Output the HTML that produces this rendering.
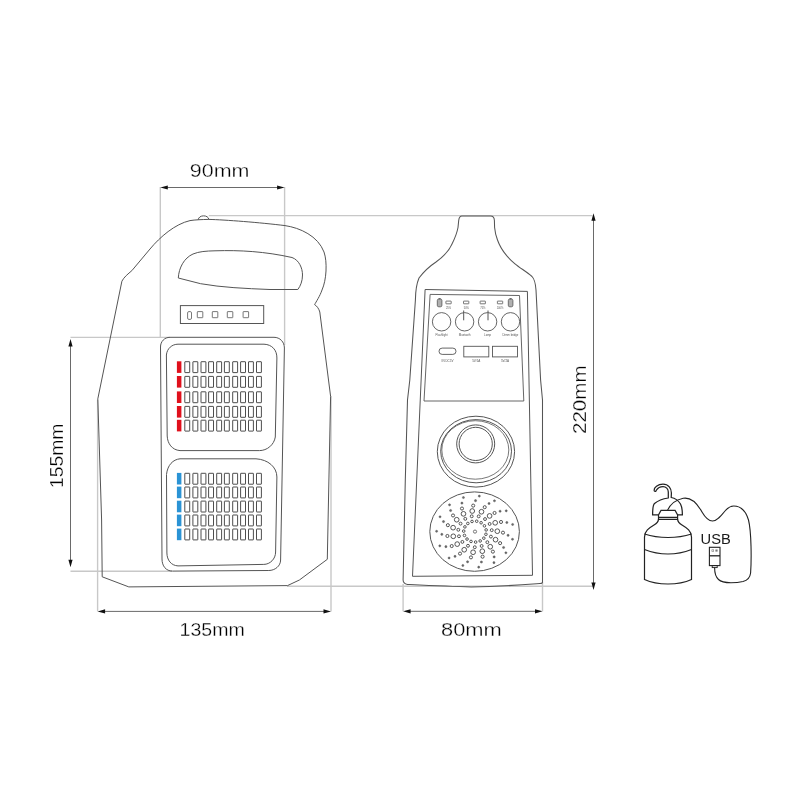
<!DOCTYPE html>
<html><head><meta charset="utf-8"><style>
html,body{margin:0;padding:0;background:#fff;}
svg{display:block;font-family:"Liberation Sans",sans-serif;will-change:transform;}
</style></head><body>
<svg width="800" height="800" viewBox="0 0 800 800">
<rect width="800" height="800" fill="#fff"/>
<line x1="160.3" y1="187" x2="160.3" y2="337.5" stroke="#c8c8c8" stroke-width="1.4"/>
<line x1="284.6" y1="187" x2="284.6" y2="345" stroke="#c8c8c8" stroke-width="1.4"/>
<line x1="208.8" y1="215.6" x2="592.5" y2="215.6" stroke="#c8c8c8" stroke-width="1.4"/>
<line x1="70.5" y1="337.4" x2="170" y2="337.4" stroke="#c8c8c8" stroke-width="1.4"/>
<line x1="70.5" y1="571.2" x2="172" y2="571.2" stroke="#c8c8c8" stroke-width="1.4"/>
<line x1="97.6" y1="400" x2="97.6" y2="611.4" stroke="#c8c8c8" stroke-width="1.4"/>
<line x1="331" y1="396" x2="331" y2="611.4" stroke="#c8c8c8" stroke-width="1.4"/>
<line x1="287" y1="586.3" x2="593.5" y2="586.3" stroke="#c8c8c8" stroke-width="1.4"/>
<line x1="403.1" y1="584" x2="403.1" y2="611.3" stroke="#c8c8c8" stroke-width="1.4"/>
<line x1="542.5" y1="582" x2="542.5" y2="611.3" stroke="#c8c8c8" stroke-width="1.4"/>
<line x1="166.3" y1="187.5" x2="278.6" y2="187.5" stroke="#6a6a6a" stroke-width="1.0"/>
<path d="M160.3,187.5 L167.8,185.4 L167.8,189.6Z M284.6,187.5 L277.1,185.4 L277.1,189.6Z" fill="#111"/>
<line x1="103.6" y1="611.4" x2="325" y2="611.4" stroke="#6a6a6a" stroke-width="1.0"/>
<path d="M97.6,611.4 L105.1,609.3 L105.1,613.5Z M331,611.4 L323.5,609.3 L323.5,613.5Z" fill="#111"/>
<line x1="409.1" y1="611.3" x2="536.5" y2="611.3" stroke="#6a6a6a" stroke-width="1.0"/>
<path d="M403.1,611.3 L410.6,609.1999999999999 L410.6,613.4Z M542.5,611.3 L535.0,609.1999999999999 L535.0,613.4Z" fill="#111"/>
<line x1="70.5" y1="345" x2="70.5" y2="561.2" stroke="#6a6a6a" stroke-width="1.0"/>
<path d="M70.5,339 L68.4,346.5 L72.6,346.5Z M70.5,567.2 L68.4,559.7 L72.6,559.7Z" fill="#111"/>
<line x1="593.5" y1="219.2" x2="593.5" y2="584" stroke="#6a6a6a" stroke-width="1.0"/>
<path d="M593.5,213.2 L591.4,220.7 L595.6,220.7Z M593.5,590 L591.4,582.5 L595.6,582.5Z" fill="#111"/>
<text x="189.8" y="176.8" font-size="18.0" textLength="59.6" lengthAdjust="spacingAndGlyphs" fill="#000" stroke="#fff" stroke-width="0.3">90mm</text>
<text x="179.6" y="636.4" font-size="18.4" textLength="65.2" lengthAdjust="spacingAndGlyphs" fill="#000" stroke="#fff" stroke-width="0.3">135mm</text>
<text x="441.0" y="636.1" font-size="18.6" textLength="60.8" lengthAdjust="spacingAndGlyphs" fill="#000" stroke="#fff" stroke-width="0.3">80mm</text>
<text x="62.8" y="488.0" font-size="18.8" textLength="64.4" lengthAdjust="spacingAndGlyphs" fill="#000" stroke="#fff" stroke-width="0.3" transform="rotate(-90 62.8 488.0)">155mm</text>
<text x="586.2" y="434.0" font-size="19.2" textLength="68.6" lengthAdjust="spacingAndGlyphs" fill="#000" stroke="#fff" stroke-width="0.3" transform="rotate(-90 586.2 434.0)">220mm</text>
<path d="M208.8,219.4 C225,219.8 260,222.5 285,225.6 C300,227.8 318,236 324,252 C327.5,262 326.5,280 322,290 C320,296 316,302 314.6,304.6 C317,306 319,309 319.8,312 L330.6,396.3 L327.3,559.3 L299.4,580 L287.5,585.6 L128.8,586.9 L102.2,576.8 L101.6,520 L97.8,398.9 L121.9,281.2 C124,277 128,274 131.9,270.6 L150,249 C160,237 175,224 190,220.6 C195,219.8 202,219.5 208.8,219.4 Z" fill="none" stroke="#555" stroke-width="1.0"/>
<path d="M198.2,219.8 C198.6,214.6 208.4,214.6 208.8,219.4" fill="none" stroke="#555" stroke-width="1.0"/>
<path d="M178.3,278 C178.8,268 184,258 193,254 C199,251.5 206,251 215,250.8 C240,250 265,251.5 292,257.5 C299,260 302.5,268 302.5,275 C302.5,281 300.5,286 297.8,289.5 L270,289.5 C245,288.5 222,287.5 200.6,283.7 Z" fill="none" stroke="#555" stroke-width="1.0"/>
<rect x="180.4" y="305.6" width="83.3" height="17.9" fill="none" stroke="#555" stroke-width="1.0"/>
<rect x="187.6" y="311.6" width="3.9" height="7.8" rx="1.3" fill="none" stroke="#555" stroke-width="0.8"/>
<rect x="197.3" y="311.6" width="5.5" height="6.1" rx="0.4" fill="none" stroke="#555" stroke-width="0.8"/>
<rect x="212.3" y="311.6" width="5.5" height="6.1" rx="0.4" fill="none" stroke="#555" stroke-width="0.8"/>
<rect x="227.3" y="311.6" width="5.5" height="6.1" rx="0.4" fill="none" stroke="#555" stroke-width="0.8"/>
<rect x="243.1" y="311.6" width="5.5" height="6.1" rx="0.4" fill="none" stroke="#555" stroke-width="0.8"/>
<path d="M170,337.3 L274,337.3 C280,337.3 284.4,342 284.4,348 L280.6,560 C280.6,566 275,570.5 268.8,570.5 L172.5,571.1 C166,571.1 162,566 162,559 L160.5,347 C160.5,341.5 164.5,337.3 170,337.3 Z" fill="none" stroke="#555" stroke-width="1.0"/>
<path d="M178,344.2 L264,344.2 C272,344.5 277,350 276.9,358 L275.3,437 C274,445 267,450.6 259.4,450.6 L180,450.6 C172,450 167.5,443.5 167.2,436 L166.4,355 C167,348.5 172,344.2 178,344.2 Z" fill="none" stroke="#555" stroke-width="1.0"/>
<path d="M180,458.8 L256,458.8 C268,459.5 276.9,467 276.9,477 L275.6,552 C275.6,559 270,564.4 263.8,564.4 L178,565.9 C171,565.5 167,560 166.9,553 L166.5,474.5 C167.5,465 173,459.5 180,458.8 Z" fill="none" stroke="#555" stroke-width="1.0"/>
<rect x="176.9" y="361.3" width="4.5" height="11.6" fill="#e0101c"/>
<rect x="184.8" y="361.7" width="4.9" height="10.9" rx="0.3" fill="none" stroke="#3a3a3a" stroke-width="0.9"/>
<rect x="192.9" y="361.7" width="4.9" height="10.9" rx="0.3" fill="none" stroke="#3a3a3a" stroke-width="0.9"/>
<rect x="201.0" y="361.7" width="4.9" height="10.9" rx="0.3" fill="none" stroke="#3a3a3a" stroke-width="0.9"/>
<rect x="208.6" y="361.7" width="4.9" height="10.9" rx="0.3" fill="none" stroke="#3a3a3a" stroke-width="0.9"/>
<rect x="216.70000000000002" y="361.7" width="4.9" height="10.9" rx="0.3" fill="none" stroke="#3a3a3a" stroke-width="0.9"/>
<rect x="224.4" y="361.7" width="4.9" height="10.9" rx="0.3" fill="none" stroke="#3a3a3a" stroke-width="0.9"/>
<rect x="232.70000000000002" y="361.7" width="4.9" height="10.9" rx="0.3" fill="none" stroke="#3a3a3a" stroke-width="0.9"/>
<rect x="240.6" y="361.7" width="4.9" height="10.9" rx="0.3" fill="none" stroke="#3a3a3a" stroke-width="0.9"/>
<rect x="248.5" y="361.7" width="4.9" height="10.9" rx="0.3" fill="none" stroke="#3a3a3a" stroke-width="0.9"/>
<rect x="256.5" y="361.7" width="4.9" height="10.9" rx="0.3" fill="none" stroke="#3a3a3a" stroke-width="0.9"/>
<rect x="176.9" y="376.0" width="4.5" height="11.6" fill="#e0101c"/>
<rect x="184.8" y="376.4" width="4.9" height="10.9" rx="0.3" fill="none" stroke="#3a3a3a" stroke-width="0.9"/>
<rect x="192.9" y="376.4" width="4.9" height="10.9" rx="0.3" fill="none" stroke="#3a3a3a" stroke-width="0.9"/>
<rect x="201.0" y="376.4" width="4.9" height="10.9" rx="0.3" fill="none" stroke="#3a3a3a" stroke-width="0.9"/>
<rect x="208.6" y="376.4" width="4.9" height="10.9" rx="0.3" fill="none" stroke="#3a3a3a" stroke-width="0.9"/>
<rect x="216.70000000000002" y="376.4" width="4.9" height="10.9" rx="0.3" fill="none" stroke="#3a3a3a" stroke-width="0.9"/>
<rect x="224.4" y="376.4" width="4.9" height="10.9" rx="0.3" fill="none" stroke="#3a3a3a" stroke-width="0.9"/>
<rect x="232.70000000000002" y="376.4" width="4.9" height="10.9" rx="0.3" fill="none" stroke="#3a3a3a" stroke-width="0.9"/>
<rect x="240.6" y="376.4" width="4.9" height="10.9" rx="0.3" fill="none" stroke="#3a3a3a" stroke-width="0.9"/>
<rect x="248.5" y="376.4" width="4.9" height="10.9" rx="0.3" fill="none" stroke="#3a3a3a" stroke-width="0.9"/>
<rect x="256.5" y="376.4" width="4.9" height="10.9" rx="0.3" fill="none" stroke="#3a3a3a" stroke-width="0.9"/>
<rect x="176.9" y="391.4" width="4.5" height="11.6" fill="#e0101c"/>
<rect x="184.8" y="391.79999999999995" width="4.9" height="10.9" rx="0.3" fill="none" stroke="#3a3a3a" stroke-width="0.9"/>
<rect x="192.9" y="391.79999999999995" width="4.9" height="10.9" rx="0.3" fill="none" stroke="#3a3a3a" stroke-width="0.9"/>
<rect x="201.0" y="391.79999999999995" width="4.9" height="10.9" rx="0.3" fill="none" stroke="#3a3a3a" stroke-width="0.9"/>
<rect x="208.6" y="391.79999999999995" width="4.9" height="10.9" rx="0.3" fill="none" stroke="#3a3a3a" stroke-width="0.9"/>
<rect x="216.70000000000002" y="391.79999999999995" width="4.9" height="10.9" rx="0.3" fill="none" stroke="#3a3a3a" stroke-width="0.9"/>
<rect x="224.4" y="391.79999999999995" width="4.9" height="10.9" rx="0.3" fill="none" stroke="#3a3a3a" stroke-width="0.9"/>
<rect x="232.70000000000002" y="391.79999999999995" width="4.9" height="10.9" rx="0.3" fill="none" stroke="#3a3a3a" stroke-width="0.9"/>
<rect x="240.6" y="391.79999999999995" width="4.9" height="10.9" rx="0.3" fill="none" stroke="#3a3a3a" stroke-width="0.9"/>
<rect x="248.5" y="391.79999999999995" width="4.9" height="10.9" rx="0.3" fill="none" stroke="#3a3a3a" stroke-width="0.9"/>
<rect x="256.5" y="391.79999999999995" width="4.9" height="10.9" rx="0.3" fill="none" stroke="#3a3a3a" stroke-width="0.9"/>
<rect x="176.9" y="406.0" width="4.5" height="11.6" fill="#e0101c"/>
<rect x="184.8" y="406.4" width="4.9" height="10.9" rx="0.3" fill="none" stroke="#3a3a3a" stroke-width="0.9"/>
<rect x="192.9" y="406.4" width="4.9" height="10.9" rx="0.3" fill="none" stroke="#3a3a3a" stroke-width="0.9"/>
<rect x="201.0" y="406.4" width="4.9" height="10.9" rx="0.3" fill="none" stroke="#3a3a3a" stroke-width="0.9"/>
<rect x="208.6" y="406.4" width="4.9" height="10.9" rx="0.3" fill="none" stroke="#3a3a3a" stroke-width="0.9"/>
<rect x="216.70000000000002" y="406.4" width="4.9" height="10.9" rx="0.3" fill="none" stroke="#3a3a3a" stroke-width="0.9"/>
<rect x="224.4" y="406.4" width="4.9" height="10.9" rx="0.3" fill="none" stroke="#3a3a3a" stroke-width="0.9"/>
<rect x="232.70000000000002" y="406.4" width="4.9" height="10.9" rx="0.3" fill="none" stroke="#3a3a3a" stroke-width="0.9"/>
<rect x="240.6" y="406.4" width="4.9" height="10.9" rx="0.3" fill="none" stroke="#3a3a3a" stroke-width="0.9"/>
<rect x="248.5" y="406.4" width="4.9" height="10.9" rx="0.3" fill="none" stroke="#3a3a3a" stroke-width="0.9"/>
<rect x="256.5" y="406.4" width="4.9" height="10.9" rx="0.3" fill="none" stroke="#3a3a3a" stroke-width="0.9"/>
<rect x="176.9" y="419.8" width="4.5" height="11.6" fill="#e0101c"/>
<rect x="184.8" y="420.2" width="4.9" height="10.9" rx="0.3" fill="none" stroke="#3a3a3a" stroke-width="0.9"/>
<rect x="192.9" y="420.2" width="4.9" height="10.9" rx="0.3" fill="none" stroke="#3a3a3a" stroke-width="0.9"/>
<rect x="201.0" y="420.2" width="4.9" height="10.9" rx="0.3" fill="none" stroke="#3a3a3a" stroke-width="0.9"/>
<rect x="208.6" y="420.2" width="4.9" height="10.9" rx="0.3" fill="none" stroke="#3a3a3a" stroke-width="0.9"/>
<rect x="216.70000000000002" y="420.2" width="4.9" height="10.9" rx="0.3" fill="none" stroke="#3a3a3a" stroke-width="0.9"/>
<rect x="224.4" y="420.2" width="4.9" height="10.9" rx="0.3" fill="none" stroke="#3a3a3a" stroke-width="0.9"/>
<rect x="232.70000000000002" y="420.2" width="4.9" height="10.9" rx="0.3" fill="none" stroke="#3a3a3a" stroke-width="0.9"/>
<rect x="240.6" y="420.2" width="4.9" height="10.9" rx="0.3" fill="none" stroke="#3a3a3a" stroke-width="0.9"/>
<rect x="248.5" y="420.2" width="4.9" height="10.9" rx="0.3" fill="none" stroke="#3a3a3a" stroke-width="0.9"/>
<rect x="256.5" y="420.2" width="4.9" height="10.9" rx="0.3" fill="none" stroke="#3a3a3a" stroke-width="0.9"/>
<rect x="176.9" y="472.9" width="4.5" height="11.6" fill="#2a93d5"/>
<rect x="184.8" y="473.29999999999995" width="4.9" height="10.9" rx="0.3" fill="none" stroke="#3a3a3a" stroke-width="0.9"/>
<rect x="192.9" y="473.29999999999995" width="4.9" height="10.9" rx="0.3" fill="none" stroke="#3a3a3a" stroke-width="0.9"/>
<rect x="201.0" y="473.29999999999995" width="4.9" height="10.9" rx="0.3" fill="none" stroke="#3a3a3a" stroke-width="0.9"/>
<rect x="208.6" y="473.29999999999995" width="4.9" height="10.9" rx="0.3" fill="none" stroke="#3a3a3a" stroke-width="0.9"/>
<rect x="216.70000000000002" y="473.29999999999995" width="4.9" height="10.9" rx="0.3" fill="none" stroke="#3a3a3a" stroke-width="0.9"/>
<rect x="224.4" y="473.29999999999995" width="4.9" height="10.9" rx="0.3" fill="none" stroke="#3a3a3a" stroke-width="0.9"/>
<rect x="232.70000000000002" y="473.29999999999995" width="4.9" height="10.9" rx="0.3" fill="none" stroke="#3a3a3a" stroke-width="0.9"/>
<rect x="240.6" y="473.29999999999995" width="4.9" height="10.9" rx="0.3" fill="none" stroke="#3a3a3a" stroke-width="0.9"/>
<rect x="248.5" y="473.29999999999995" width="4.9" height="10.9" rx="0.3" fill="none" stroke="#3a3a3a" stroke-width="0.9"/>
<rect x="256.5" y="473.29999999999995" width="4.9" height="10.9" rx="0.3" fill="none" stroke="#3a3a3a" stroke-width="0.9"/>
<rect x="176.9" y="486.6" width="4.5" height="11.6" fill="#2a93d5"/>
<rect x="184.8" y="487.0" width="4.9" height="10.9" rx="0.3" fill="none" stroke="#3a3a3a" stroke-width="0.9"/>
<rect x="192.9" y="487.0" width="4.9" height="10.9" rx="0.3" fill="none" stroke="#3a3a3a" stroke-width="0.9"/>
<rect x="201.0" y="487.0" width="4.9" height="10.9" rx="0.3" fill="none" stroke="#3a3a3a" stroke-width="0.9"/>
<rect x="208.6" y="487.0" width="4.9" height="10.9" rx="0.3" fill="none" stroke="#3a3a3a" stroke-width="0.9"/>
<rect x="216.70000000000002" y="487.0" width="4.9" height="10.9" rx="0.3" fill="none" stroke="#3a3a3a" stroke-width="0.9"/>
<rect x="224.4" y="487.0" width="4.9" height="10.9" rx="0.3" fill="none" stroke="#3a3a3a" stroke-width="0.9"/>
<rect x="232.70000000000002" y="487.0" width="4.9" height="10.9" rx="0.3" fill="none" stroke="#3a3a3a" stroke-width="0.9"/>
<rect x="240.6" y="487.0" width="4.9" height="10.9" rx="0.3" fill="none" stroke="#3a3a3a" stroke-width="0.9"/>
<rect x="248.5" y="487.0" width="4.9" height="10.9" rx="0.3" fill="none" stroke="#3a3a3a" stroke-width="0.9"/>
<rect x="256.5" y="487.0" width="4.9" height="10.9" rx="0.3" fill="none" stroke="#3a3a3a" stroke-width="0.9"/>
<rect x="176.9" y="500.7" width="4.5" height="11.6" fill="#2a93d5"/>
<rect x="184.8" y="501.09999999999997" width="4.9" height="10.9" rx="0.3" fill="none" stroke="#3a3a3a" stroke-width="0.9"/>
<rect x="192.9" y="501.09999999999997" width="4.9" height="10.9" rx="0.3" fill="none" stroke="#3a3a3a" stroke-width="0.9"/>
<rect x="201.0" y="501.09999999999997" width="4.9" height="10.9" rx="0.3" fill="none" stroke="#3a3a3a" stroke-width="0.9"/>
<rect x="208.6" y="501.09999999999997" width="4.9" height="10.9" rx="0.3" fill="none" stroke="#3a3a3a" stroke-width="0.9"/>
<rect x="216.70000000000002" y="501.09999999999997" width="4.9" height="10.9" rx="0.3" fill="none" stroke="#3a3a3a" stroke-width="0.9"/>
<rect x="224.4" y="501.09999999999997" width="4.9" height="10.9" rx="0.3" fill="none" stroke="#3a3a3a" stroke-width="0.9"/>
<rect x="232.70000000000002" y="501.09999999999997" width="4.9" height="10.9" rx="0.3" fill="none" stroke="#3a3a3a" stroke-width="0.9"/>
<rect x="240.6" y="501.09999999999997" width="4.9" height="10.9" rx="0.3" fill="none" stroke="#3a3a3a" stroke-width="0.9"/>
<rect x="248.5" y="501.09999999999997" width="4.9" height="10.9" rx="0.3" fill="none" stroke="#3a3a3a" stroke-width="0.9"/>
<rect x="256.5" y="501.09999999999997" width="4.9" height="10.9" rx="0.3" fill="none" stroke="#3a3a3a" stroke-width="0.9"/>
<rect x="176.9" y="514.6" width="4.5" height="11.6" fill="#2a93d5"/>
<rect x="184.8" y="515.0" width="4.9" height="10.9" rx="0.3" fill="none" stroke="#3a3a3a" stroke-width="0.9"/>
<rect x="192.9" y="515.0" width="4.9" height="10.9" rx="0.3" fill="none" stroke="#3a3a3a" stroke-width="0.9"/>
<rect x="201.0" y="515.0" width="4.9" height="10.9" rx="0.3" fill="none" stroke="#3a3a3a" stroke-width="0.9"/>
<rect x="208.6" y="515.0" width="4.9" height="10.9" rx="0.3" fill="none" stroke="#3a3a3a" stroke-width="0.9"/>
<rect x="216.70000000000002" y="515.0" width="4.9" height="10.9" rx="0.3" fill="none" stroke="#3a3a3a" stroke-width="0.9"/>
<rect x="224.4" y="515.0" width="4.9" height="10.9" rx="0.3" fill="none" stroke="#3a3a3a" stroke-width="0.9"/>
<rect x="232.70000000000002" y="515.0" width="4.9" height="10.9" rx="0.3" fill="none" stroke="#3a3a3a" stroke-width="0.9"/>
<rect x="240.6" y="515.0" width="4.9" height="10.9" rx="0.3" fill="none" stroke="#3a3a3a" stroke-width="0.9"/>
<rect x="248.5" y="515.0" width="4.9" height="10.9" rx="0.3" fill="none" stroke="#3a3a3a" stroke-width="0.9"/>
<rect x="256.5" y="515.0" width="4.9" height="10.9" rx="0.3" fill="none" stroke="#3a3a3a" stroke-width="0.9"/>
<rect x="176.9" y="528.6" width="4.5" height="11.6" fill="#2a93d5"/>
<rect x="184.8" y="529.0" width="4.9" height="10.9" rx="0.3" fill="none" stroke="#3a3a3a" stroke-width="0.9"/>
<rect x="192.9" y="529.0" width="4.9" height="10.9" rx="0.3" fill="none" stroke="#3a3a3a" stroke-width="0.9"/>
<rect x="201.0" y="529.0" width="4.9" height="10.9" rx="0.3" fill="none" stroke="#3a3a3a" stroke-width="0.9"/>
<rect x="208.6" y="529.0" width="4.9" height="10.9" rx="0.3" fill="none" stroke="#3a3a3a" stroke-width="0.9"/>
<rect x="216.70000000000002" y="529.0" width="4.9" height="10.9" rx="0.3" fill="none" stroke="#3a3a3a" stroke-width="0.9"/>
<rect x="224.4" y="529.0" width="4.9" height="10.9" rx="0.3" fill="none" stroke="#3a3a3a" stroke-width="0.9"/>
<rect x="232.70000000000002" y="529.0" width="4.9" height="10.9" rx="0.3" fill="none" stroke="#3a3a3a" stroke-width="0.9"/>
<rect x="240.6" y="529.0" width="4.9" height="10.9" rx="0.3" fill="none" stroke="#3a3a3a" stroke-width="0.9"/>
<rect x="248.5" y="529.0" width="4.9" height="10.9" rx="0.3" fill="none" stroke="#3a3a3a" stroke-width="0.9"/>
<rect x="256.5" y="529.0" width="4.9" height="10.9" rx="0.3" fill="none" stroke="#3a3a3a" stroke-width="0.9"/>
<path d="M461.9,216 L490.6,216 C492.8,216 494.3,218 494.4,220.5 L494.6,227.5 C495,232 496,236 497.5,240 C501,250 508,258 515,263.8 C520,268 527,272 532,276.5 C535,279.5 535.6,284 536,290 L540.6,380 L542.5,400 L542.5,581.9 C542.5,583 541.5,583.5 540,583.6 C520,585 500,586.5 471.3,586.9 C450,586.5 430,585.5 407.5,584.4 C405,584 403.1,582.5 403.1,580 L405.3,480 L407.5,400 L409.8,380 L415.4,300 C415.5,292 416,285 419,278 C425,270 430,266 436,262 C443,257 449,251 452,244 C455,238 457,233 458,227.5 L458.7,220.5 C459,218 460,216 461.9,216 Z" fill="none" stroke="#555" stroke-width="1.05"/>
<path d="M425.1,289.5 L527.4,291.4 L532.5,575.3 L412.5,576.3 Z" fill="none" stroke="#555" stroke-width="1.0"/>
<path d="M430.1,294.4 L519.5,295.5 L523.8,401 L424,401 Z" fill="none" stroke="#555" stroke-width="0.9"/>
<rect x="437.3" y="299" width="4.6" height="7.8" rx="1.5" fill="#b0b0b0" stroke="#555" stroke-width="0.8"/>
<rect x="438.6" y="298.2" width="2" height="1" fill="#555"/>
<rect x="508.3" y="299" width="4.6" height="7.8" rx="1.5" fill="#b0b0b0" stroke="#555" stroke-width="0.8"/>
<rect x="509.6" y="298.2" width="2" height="1" fill="#555"/>
<rect x="445.9" y="301.1" width="5.3" height="2.7" rx="0.3" fill="none" stroke="#555" stroke-width="0.8"/>
<rect x="463.5" y="301.1" width="5.3" height="2.7" rx="0.3" fill="none" stroke="#555" stroke-width="0.8"/>
<rect x="480.1" y="301.1" width="5.3" height="2.7" rx="0.3" fill="none" stroke="#555" stroke-width="0.8"/>
<rect x="497.4" y="301.1" width="5.3" height="2.7" rx="0.3" fill="none" stroke="#555" stroke-width="0.8"/>
<text x="448.5" y="308.6" font-size="2.6" text-anchor="middle" fill="#555">25%</text>
<text x="466.3" y="308.6" font-size="2.6" text-anchor="middle" fill="#555">50%</text>
<text x="482.8" y="308.6" font-size="2.6" text-anchor="middle" fill="#555">75%</text>
<text x="500" y="308.6" font-size="2.6" text-anchor="middle" fill="#555">100%</text>
<circle cx="441.6" cy="321.8" r="9.2" fill="none" stroke="#555" stroke-width="0.9"/>
<circle cx="464.6" cy="321.8" r="9.2" fill="none" stroke="#555" stroke-width="0.9"/>
<circle cx="487.6" cy="321.8" r="9.2" fill="none" stroke="#555" stroke-width="0.9"/>
<circle cx="510.5" cy="321.8" r="9.2" fill="none" stroke="#555" stroke-width="0.9"/>
<line x1="463.7" y1="310.5" x2="463.7" y2="320.3" stroke="#555" stroke-width="1"/>
<line x1="488" y1="310.5" x2="488" y2="320.3" stroke="#555" stroke-width="1"/>
<text x="441.6" y="335.5" font-size="2.8" text-anchor="middle" fill="#555">Flashlight</text>
<text x="464.6" y="335.5" font-size="2.8" text-anchor="middle" fill="#555">Bluetooth</text>
<text x="487.6" y="335.5" font-size="2.8" text-anchor="middle" fill="#555">Lamp</text>
<text x="510.5" y="335.5" font-size="2.8" text-anchor="middle" fill="#555">Dimm bridge</text>
<rect x="439" y="348.1" width="17" height="6.3" rx="3.15" fill="none" stroke="#555" stroke-width="0.9"/>
<rect x="463.8" y="346.3" width="25" height="10.6" fill="none" stroke="#555" stroke-width="0.9"/>
<rect x="492.5" y="346.3" width="25" height="10.6" fill="none" stroke="#555" stroke-width="0.9"/>
<text x="447.5" y="362.4" font-size="3" text-anchor="middle" fill="#555">IN DC5V</text>
<text x="476.3" y="362.4" font-size="3" text-anchor="middle" fill="#555">5V/1A</text>
<text x="505" y="362.4" font-size="3" text-anchor="middle" fill="#555">5V/2A</text>
<ellipse cx="475.95" cy="451.65" rx="38.65" ry="35.45" fill="none" stroke="#555" stroke-width="1.0"/>
<ellipse cx="476.1" cy="451.2" rx="35.4" ry="31.6" fill="none" stroke="#555" stroke-width="1.0"/>
<ellipse cx="475.3" cy="449.95" rx="33.5" ry="29.25" fill="none" stroke="#555" stroke-width="0.8"/>
<circle cx="475.7" cy="443.9" r="19.0" fill="none" stroke="#555" stroke-width="1.0"/>
<circle cx="475.7" cy="443.9" r="16.6" fill="none" stroke="#555" stroke-width="1.0"/>
<ellipse cx="474.6" cy="531.6" rx="44.8" ry="39.7" fill="none" stroke="#555" stroke-width="1.0"/>
<circle cx="475" cy="531.6" r="1.6" fill="none" stroke="#555" stroke-width="0.8"/>
<circle cx="486.15" cy="529.90" r="1.3" fill="none" stroke="#3a3a3a" stroke-width="0.85"/>
<circle cx="491.73" cy="530.16" r="1.45" fill="none" stroke="#3a3a3a" stroke-width="0.85"/>
<circle cx="497.30" cy="531.20" r="2.35" fill="none" stroke="#3a3a3a" stroke-width="0.85"/>
<circle cx="502.98" cy="532.65" r="1.55" fill="none" stroke="#3a3a3a" stroke-width="0.85"/>
<circle cx="508.06" cy="535.32" r="1.1" fill="#6a6a6a" stroke="#444" stroke-width="0.4"/>
<circle cx="512.50" cy="539.30" r="1.05" fill="#6a6a6a" stroke="#444" stroke-width="0.4"/>
<circle cx="484.44" cy="525.83" r="1.3" fill="none" stroke="#3a3a3a" stroke-width="0.85"/>
<circle cx="489.65" cy="523.95" r="1.45" fill="none" stroke="#3a3a3a" stroke-width="0.85"/>
<circle cx="495.19" cy="522.80" r="2.35" fill="none" stroke="#3a3a3a" stroke-width="0.85"/>
<circle cx="501.02" cy="521.97" r="1.55" fill="none" stroke="#3a3a3a" stroke-width="0.85"/>
<circle cx="506.83" cy="522.49" r="1.1" fill="#6a6a6a" stroke="#444" stroke-width="0.4"/>
<circle cx="512.62" cy="524.45" r="1.05" fill="#6a6a6a" stroke="#444" stroke-width="0.4"/>
<circle cx="481.10" cy="522.76" r="1.3" fill="none" stroke="#3a3a3a" stroke-width="0.85"/>
<circle cx="485.04" cy="519.07" r="1.45" fill="none" stroke="#3a3a3a" stroke-width="0.85"/>
<circle cx="489.60" cy="515.92" r="2.35" fill="none" stroke="#3a3a3a" stroke-width="0.85"/>
<circle cx="494.56" cy="512.96" r="1.55" fill="none" stroke="#3a3a3a" stroke-width="0.85"/>
<circle cx="500.09" cy="511.24" r="1.1" fill="#6a6a6a" stroke="#444" stroke-width="0.4"/>
<circle cx="506.24" cy="510.84" r="1.05" fill="#6a6a6a" stroke="#444" stroke-width="0.4"/>
<circle cx="476.71" cy="521.21" r="1.3" fill="none" stroke="#3a3a3a" stroke-width="0.85"/>
<circle cx="478.69" cy="516.36" r="1.45" fill="none" stroke="#3a3a3a" stroke-width="0.85"/>
<circle cx="481.48" cy="511.76" r="2.35" fill="none" stroke="#3a3a3a" stroke-width="0.85"/>
<circle cx="484.71" cy="507.18" r="1.55" fill="none" stroke="#3a3a3a" stroke-width="0.85"/>
<circle cx="489.02" cy="503.51" r="1.1" fill="#6a6a6a" stroke="#444" stroke-width="0.4"/>
<circle cx="494.46" cy="500.81" r="1.05" fill="#6a6a6a" stroke="#444" stroke-width="0.4"/>
<circle cx="472.02" cy="521.46" r="1.3" fill="none" stroke="#3a3a3a" stroke-width="0.85"/>
<circle cx="471.71" cy="516.28" r="1.45" fill="none" stroke="#3a3a3a" stroke-width="0.85"/>
<circle cx="472.24" cy="511.02" r="2.35" fill="none" stroke="#3a3a3a" stroke-width="0.85"/>
<circle cx="473.19" cy="505.61" r="1.55" fill="none" stroke="#3a3a3a" stroke-width="0.85"/>
<circle cx="475.52" cy="500.63" r="1.1" fill="#6a6a6a" stroke="#444" stroke-width="0.4"/>
<circle cx="479.31" cy="496.11" r="1.05" fill="#6a6a6a" stroke="#444" stroke-width="0.4"/>
<circle cx="467.84" cy="523.47" r="1.3" fill="none" stroke="#3a3a3a" stroke-width="0.85"/>
<circle cx="465.29" cy="518.85" r="1.45" fill="none" stroke="#3a3a3a" stroke-width="0.85"/>
<circle cx="463.48" cy="513.84" r="2.35" fill="none" stroke="#3a3a3a" stroke-width="0.85"/>
<circle cx="461.98" cy="508.54" r="1.55" fill="none" stroke="#3a3a3a" stroke-width="0.85"/>
<circle cx="461.94" cy="503.11" r="1.1" fill="#6a6a6a" stroke="#444" stroke-width="0.4"/>
<circle cx="463.42" cy="497.55" r="1.05" fill="#6a6a6a" stroke="#444" stroke-width="0.4"/>
<circle cx="464.90" cy="526.88" r="1.3" fill="none" stroke="#3a3a3a" stroke-width="0.85"/>
<circle cx="460.55" cy="523.62" r="1.45" fill="none" stroke="#3a3a3a" stroke-width="0.85"/>
<circle cx="456.71" cy="519.73" r="2.35" fill="none" stroke="#3a3a3a" stroke-width="0.85"/>
<circle cx="453.03" cy="515.46" r="1.55" fill="none" stroke="#3a3a3a" stroke-width="0.85"/>
<circle cx="450.61" cy="510.52" r="1.1" fill="#6a6a6a" stroke="#444" stroke-width="0.4"/>
<circle cx="449.53" cy="504.87" r="1.05" fill="#6a6a6a" stroke="#444" stroke-width="0.4"/>
<circle cx="463.71" cy="531.10" r="1.3" fill="none" stroke="#3a3a3a" stroke-width="0.85"/>
<circle cx="458.31" cy="529.78" r="1.45" fill="none" stroke="#3a3a3a" stroke-width="0.85"/>
<circle cx="453.10" cy="527.68" r="2.35" fill="none" stroke="#3a3a3a" stroke-width="0.85"/>
<circle cx="447.87" cy="525.17" r="1.55" fill="none" stroke="#3a3a3a" stroke-width="0.85"/>
<circle cx="443.50" cy="521.57" r="1.1" fill="#6a6a6a" stroke="#444" stroke-width="0.4"/>
<circle cx="440.04" cy="516.82" r="1.05" fill="#6a6a6a" stroke="#444" stroke-width="0.4"/>
<circle cx="464.47" cy="535.42" r="1.3" fill="none" stroke="#3a3a3a" stroke-width="0.85"/>
<circle cx="458.96" cy="536.25" r="1.45" fill="none" stroke="#3a3a3a" stroke-width="0.85"/>
<circle cx="453.28" cy="536.30" r="2.35" fill="none" stroke="#3a3a3a" stroke-width="0.85"/>
<circle cx="447.40" cy="535.99" r="1.55" fill="none" stroke="#3a3a3a" stroke-width="0.85"/>
<circle cx="441.83" cy="534.35" r="1.1" fill="#6a6a6a" stroke="#444" stroke-width="0.4"/>
<circle cx="436.60" cy="531.32" r="1.05" fill="#6a6a6a" stroke="#444" stroke-width="0.4"/>
<circle cx="467.05" cy="539.07" r="1.3" fill="none" stroke="#3a3a3a" stroke-width="0.85"/>
<circle cx="462.38" cy="541.91" r="1.45" fill="none" stroke="#3a3a3a" stroke-width="0.85"/>
<circle cx="457.21" cy="544.11" r="2.35" fill="none" stroke="#3a3a3a" stroke-width="0.85"/>
<circle cx="451.71" cy="546.05" r="1.55" fill="none" stroke="#3a3a3a" stroke-width="0.85"/>
<circle cx="445.90" cy="546.66" r="1.1" fill="#6a6a6a" stroke="#444" stroke-width="0.4"/>
<circle cx="439.80" cy="545.87" r="1.05" fill="#6a6a6a" stroke="#444" stroke-width="0.4"/>
<circle cx="471.01" cy="541.43" r="1.3" fill="none" stroke="#3a3a3a" stroke-width="0.85"/>
<circle cx="467.98" cy="545.79" r="1.45" fill="none" stroke="#3a3a3a" stroke-width="0.85"/>
<circle cx="464.22" cy="549.76" r="2.35" fill="none" stroke="#3a3a3a" stroke-width="0.85"/>
<circle cx="460.04" cy="553.61" r="1.55" fill="none" stroke="#3a3a3a" stroke-width="0.85"/>
<circle cx="455.01" cy="556.37" r="1.1" fill="#6a6a6a" stroke="#444" stroke-width="0.4"/>
<circle cx="449.08" cy="557.95" r="1.05" fill="#6a6a6a" stroke="#444" stroke-width="0.4"/>
<circle cx="475.65" cy="542.09" r="1.3" fill="none" stroke="#3a3a3a" stroke-width="0.85"/>
<circle cx="474.79" cy="547.22" r="1.45" fill="none" stroke="#3a3a3a" stroke-width="0.85"/>
<circle cx="473.10" cy="552.26" r="2.35" fill="none" stroke="#3a3a3a" stroke-width="0.85"/>
<circle cx="470.96" cy="557.37" r="1.55" fill="none" stroke="#3a3a3a" stroke-width="0.85"/>
<circle cx="467.57" cy="561.79" r="1.1" fill="#6a6a6a" stroke="#444" stroke-width="0.4"/>
<circle cx="462.85" cy="565.48" r="1.05" fill="#6a6a6a" stroke="#444" stroke-width="0.4"/>
<circle cx="480.18" cy="540.94" r="1.3" fill="none" stroke="#3a3a3a" stroke-width="0.85"/>
<circle cx="481.65" cy="545.95" r="1.45" fill="none" stroke="#3a3a3a" stroke-width="0.85"/>
<circle cx="482.30" cy="551.20" r="2.35" fill="none" stroke="#3a3a3a" stroke-width="0.85"/>
<circle cx="482.58" cy="556.67" r="1.55" fill="none" stroke="#3a3a3a" stroke-width="0.85"/>
<circle cx="481.41" cy="561.99" r="1.1" fill="#6a6a6a" stroke="#444" stroke-width="0.4"/>
<circle cx="478.71" cy="567.14" r="1.05" fill="#6a6a6a" stroke="#444" stroke-width="0.4"/>
<circle cx="483.82" cy="538.17" r="1.3" fill="none" stroke="#3a3a3a" stroke-width="0.85"/>
<circle cx="487.35" cy="542.20" r="1.45" fill="none" stroke="#3a3a3a" stroke-width="0.85"/>
<circle cx="490.24" cy="546.74" r="2.35" fill="none" stroke="#3a3a3a" stroke-width="0.85"/>
<circle cx="492.89" cy="551.64" r="1.55" fill="none" stroke="#3a3a3a" stroke-width="0.85"/>
<circle cx="494.15" cy="556.94" r="1.1" fill="#6a6a6a" stroke="#444" stroke-width="0.4"/>
<circle cx="493.94" cy="562.67" r="1.05" fill="#6a6a6a" stroke="#444" stroke-width="0.4"/>
<circle cx="485.93" cy="534.27" r="1.3" fill="none" stroke="#3a3a3a" stroke-width="0.85"/>
<circle cx="490.91" cy="536.61" r="1.45" fill="none" stroke="#3a3a3a" stroke-width="0.85"/>
<circle cx="495.54" cy="539.67" r="2.35" fill="none" stroke="#3a3a3a" stroke-width="0.85"/>
<circle cx="500.10" cy="543.14" r="1.55" fill="none" stroke="#3a3a3a" stroke-width="0.85"/>
<circle cx="503.57" cy="547.50" r="1.1" fill="#6a6a6a" stroke="#444" stroke-width="0.4"/>
<circle cx="505.89" cy="552.82" r="1.05" fill="#6a6a6a" stroke="#444" stroke-width="0.4"/>
<path d="M654.3,491 C653.5,487.5 658,484.2 663,484.2 C668.5,484.2 671.4,488.5 671.4,493 L671.2,497.5 C674,498 678,500 680.5,504 C682,507 682.4,510 682.4,514.9 L677.6,514.9" fill="none" stroke="#222" stroke-width="1.25" stroke-linejoin="round"/>
<path d="M654.3,491 C655,492 656.3,491.2 656.3,490.3 C658,487.5 660.5,486.5 663,486.5 C666,486.5 668.3,489 668.3,492 L668.3,498 C664,498.6 658,500.5 654.5,503.5 C653,505 652.6,508 652.6,514.9 L658.5,514.9" fill="none" stroke="#222" stroke-width="1.25" stroke-linejoin="round"/>
<path d="M661,510.4 L675.1,510.4 L677.6,514.9 L677.6,519.4 L658.5,519.4 L658.5,514.9 Z M658.5,517.4 L677.6,517.4" fill="none" stroke="#222" stroke-width="1.2"/>
<path d="M658.5,519.4 C658.3,522 656.5,523.5 654,525 C649,528 644.5,531 644.5,537 L644.5,579.5 C652,583 660,584 668,584 C676,584 684,583 691.5,579.5 L691.5,537 C691.5,531 687,528 682,525 C679.5,523.5 677.8,522 677.6,519.4" fill="none" stroke="#222" stroke-width="1.2"/>
<path d="M644.5,534 C652,536.5 660,537.5 668,537.5 C676,537.5 684,536.5 691.5,534 M644.5,549.5 C652,552.5 660,554 668,554 C676,554 684,552.5 691.5,549.5" fill="none" stroke="#222" stroke-width="1.2"/>
<path d="M667.5,510.4 C670,505 675,500 683.2,498.3 C691,497 697,503 702,512 C705.5,518 708.5,521 712.5,521 C717,521 721,516 725,511 C728,507.5 730.5,506 733.75,506 C740,506 745.5,510 748.5,520 C751.5,532 751.5,560 750.6,573 C750,578 747,580.5 743,581.5 C738,582.6 734,582.7 731,582.7 C726,582.7 721,582 718.5,579.5 C715,576.5 714.6,572 714.6,567.6" fill="none" stroke="#222" stroke-width="1.1"/>
<text x="700.6" y="543.8" font-size="13.9" textLength="30.2" lengthAdjust="spacingAndGlyphs" fill="#1a1a1a">USB</text>
<rect x="709.4" y="547.3" width="10.6" height="18.3" fill="none" stroke="#222" stroke-width="1.1"/>
<line x1="709.4" y1="555.8" x2="720" y2="555.8" stroke="#222" stroke-width="1.3"/>
<rect x="712.2" y="565.6" width="5" height="2" fill="none" stroke="#222" stroke-width="0.9"/>
<rect x="711.9" y="549.8" width="1.8" height="1.5" fill="none" stroke="#777" stroke-width="0.6"/>
<rect x="715.7" y="549.8" width="1.8" height="1.5" fill="none" stroke="#777" stroke-width="0.6"/>
</svg></body></html>
